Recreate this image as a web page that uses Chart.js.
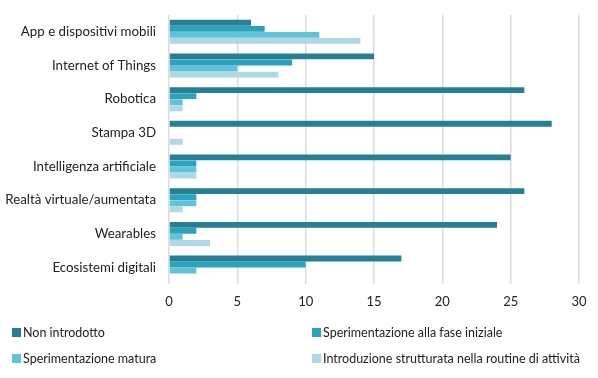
<!DOCTYPE html>
<html><head><meta charset="utf-8">
<script src="https://cdn.jsdelivr.net/npm/chart.js@4/dist/chart.umd.min.js"></script>
<style>
html,body{margin:0;padding:0;background:#fff;width:598px;height:378px;overflow:hidden;font-family:Lato,"Open Sans",sans-serif;}
#wrap{position:absolute;left:0;top:-6px;width:598px;height:326px;}
#legend{position:absolute;left:0;top:0;width:598px;height:378px;font-size:12.5px;color:#222;pointer-events:none;}
.li{position:absolute;display:flex;align-items:center;white-space:nowrap;height:16px;}
.sw{width:9px;height:9px;margin-right:2px;display:inline-block;}
</style></head><body>
<div id="wrap"><canvas id="c"></canvas></div>
<div id="legend"></div>
<script>
const categories = ["App e dispositivi mobili","Internet of Things","Robotica","Stampa 3D","Intelligenza artificiale","Realtà virtuale/aumentata","Wearables","Ecosistemi digitali"];
const seriesNames = ["Non introdotto","Sperimentazione alla fase iniziale","Sperimentazione matura","Introduzione strutturata nella routine di attività"];
const nonIntrodotto = [6,15,26,28,25,26,24,17];
const faseIniziale = [7,9,2,0,2,2,2,10];
const matura = [11,5,1,0,2,2,1,2];
const strutturata = [14,8,1,1,2,1,3,0];
const xTicks = [0,5,10,15,20,25,30];
const colors = ["#277f96","#2ba3bf","#62c2d8","#aed8e4"];

const values = [nonIntrodotto, faseIniziale, matura, strutturata];
const ctx = document.getElementById('c');
new Chart(ctx, {
  type: 'bar',
  data: {
    labels: categories,
    datasets: seriesNames.map((n,i)=>({label:n,data:values[i],backgroundColor:colors[i],borderWidth:0,categoryPercentage:0.72,barPercentage:0.96}))
  },
  options: {
    indexAxis: 'y',
    responsive: true,
    maintainAspectRatio: false,
    animation: false,
    layout: {padding: {left: 0, right: 19, top: 5, bottom: 0}},
    plugins: {legend: {display: false}, tooltip: {enabled: false}},
    scales: {
      x: {
        min: 0, max: 30,
        afterBuildTicks: (ax)=>{ ax.ticks = xTicks.map(v=>({value:v})); },
        grid: {color: '#dcdcdc', lineWidth: 1.5, drawTicks: false},
        border: {display: false},
        ticks: {color: '#222', font: {family: 'Lato', size: 13}, padding: 10}
      },
      y: {
        afterFit: (ax)=>{ ax.width = 169; },
        grid: {display: false, drawTicks: false},
        border: {display: false},
        ticks: {color: '#222', font: {family: 'Lato', size: 13.3}, padding: 13}
      }
    }
  }
});
const pos = [[12,324],[312,324],[12,350],[312,350]];
const lg = document.getElementById('legend');
seriesNames.forEach((n,i)=>{
  const d = document.createElement('div'); d.className='li';
  d.style.left = pos[i][0]+'px'; d.style.top = pos[i][1]+'px';
  d.innerHTML = '<span class="sw" style="background:'+colors[i]+'"></span>' + n;
  lg.appendChild(d);
});
</script>
</body></html>
